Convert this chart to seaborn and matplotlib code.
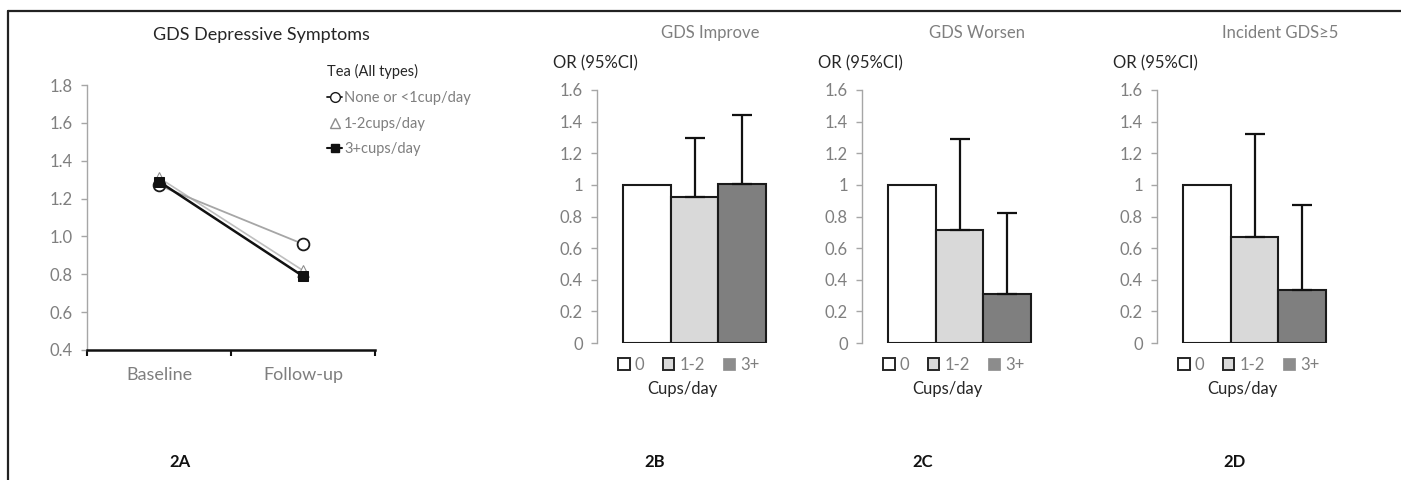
import numpy as np
import pandas as pd
import matplotlib
matplotlib.use("Agg")
import matplotlib.pyplot as plt
from matplotlib.lines import Line2D
from matplotlib.patches import Patch
from matplotlib.ticker import FuncFormatter, FixedLocator
import seaborn as sns

# ---------------- data ----------------
timepoints = ["Baseline", "Follow-up"]
tea_groups = ["None or <1cup/day", "1-2cups/day", "3+cups/day"]
gds_none = [1.27, 0.96]
gds_12 = [1.31, 0.82]
gds_3p = [1.29, 0.79]

cups = ["0", "1-2", "3+"]
improve_or = [1.00, 0.925, 1.007]
improve_upper = [np.nan, 1.294, 1.442]
worsen_or = [1.00, 0.716, 0.312]
worsen_upper = [np.nan, 1.293, 0.823]
incident_or = [1.00, 0.670, 0.338]
incident_upper = [np.nan, 1.321, 0.875]

bar_titles = ["GDS Improve", "GDS Worsen", "Incident GDS\u22655"]
panel_labels = ["2A", "2B", "2C", "2D"]

# ---------------- style ----------------
sns.set_theme(style="white")
plt.rcParams["font.family"] = ["Lato", "DejaVu Sans"]

W, H = 1401, 480
fig = plt.figure(figsize=(W / 100, H / 100), dpi=100)

def fx(px):
    return px / W

def fy(py):
    return 1 - py / H

GRAY_TXT = "#7f7f7f"
AX_GRAY = "#a6a6a6"
DARK = "#262626"
TICK_FS = 12

# frame lines (top and left)
fig.add_artist(Line2D([fx(8), 1.0], [fy(10.5), fy(10.5)], color="#222222", lw=1.6))
fig.add_artist(Line2D([fx(8), fx(8)], [fy(10.5), 0.0], color="#222222", lw=1.6))

# ---------------- panel A ----------------
axA = fig.add_axes([fx(87), fy(350), fx(375) - fx(87), fy(85) - fy(350)])
series = [
    (tea_groups[1], gds_12, dict(color="#bfbfbf", marker="^", markersize=8,
                                 markerfacecolor="white", markeredgecolor="#8c8c8c", lw=1.2)),
    (tea_groups[0], gds_none, dict(color="#a6a6a6", marker="o", markersize=8.5,
                                   markerfacecolor="white", markeredgecolor="#1a1a1a",
                                   markeredgewidth=1.3, lw=1.3)),
    (tea_groups[2], gds_3p, dict(color="#111111", marker="s", markersize=7,
                                 markerfacecolor="#111111", markeredgecolor="#111111", lw=1.8)),
]
for name, vals, kw in series:
    df = pd.DataFrame({"time": timepoints, "gds": vals})
    sns.lineplot(data=df, x="time", y="gds", ax=axA, sort=False, **kw)

axA.set_xlim(-0.5, 1.5)
axA.set_ylim(0.4, 1.8)
axA.set_yticks(np.arange(0.4, 1.81, 0.2))
axA.yaxis.set_major_formatter(FuncFormatter(lambda v, p: f"{v:.1f}"))
axA.set_xticks([0, 1])
axA.set_xticklabels(timepoints)
axA.xaxis.set_minor_locator(FixedLocator([-0.5, 0.5, 1.5]))
axA.tick_params(axis="x", which="major", bottom=True, length=0, pad=12, labelsize=13,
                labelcolor=GRAY_TXT)
axA.tick_params(axis="x", which="minor", bottom=True, direction="out", length=4, width=1.5,
                color="#111111")
axA.tick_params(axis="y", left=True, direction="out", length=4, width=1, color=AX_GRAY,
                labelsize=TICK_FS, labelcolor=GRAY_TXT, pad=6)
axA.set_xlabel("")
axA.set_ylabel("")
for s in ["top", "right"]:
    axA.spines[s].set_visible(False)
axA.spines["left"].set_color(AX_GRAY)
axA.spines["left"].set_linewidth(1.0)
axA.spines["bottom"].set_color("#111111")
axA.spines["bottom"].set_linewidth(1.8)

fig.text(fx(261), fy(35), "GDS Depressive Symptoms", ha="center", va="center",
         fontsize=13, color=DARK)

leg_handles = [
    Line2D([0], [0], color="#1a1a1a", marker="o", markersize=7, markerfacecolor="white",
           markeredgecolor="#1a1a1a", lw=1.3),
    Line2D([0], [0], color="none", marker="^", markersize=7, markerfacecolor="white",
           markeredgecolor="#8c8c8c"),
    Line2D([0], [0], color="#111111", marker="s", markersize=6, markerfacecolor="#111111", lw=1.5),
]
legA = fig.legend(leg_handles, tea_groups, loc="upper left",
                  bbox_to_anchor=(fx(320), fy(57)), frameon=False, fontsize=10.5,
                  title="Tea (All types)", title_fontsize=10.5, handlelength=1.0,
                  handletextpad=0.15, labelspacing=0.8, alignment="left", borderpad=0)
for t in legA.get_texts():
    t.set_color(GRAY_TXT)
legA.get_title().set_color(DARK)

fig.text(fx(180), fy(462), panel_labels[0], ha="center", va="center", fontsize=12,
         color="#111111", fontweight="bold")

# ---------------- panels B-D ----------------
bar_colors = ["#ffffff", "#d9d9d9", "#7f7f7f"]
bar_sets = [(improve_or, improve_upper), (worsen_or, worsen_upper), (incident_or, incident_upper)]
lefts = [597, 862, 1157]
label_x = [655, 923, 1235]
title_x = [710, 977, 1280]
axw = 195
top_px, bot_px = 90, 343
gap_units = 26 / 48.5

for i, ((ors, upp), left) in enumerate(zip(bar_sets, lefts)):
    ax = fig.add_axes([fx(left), fy(bot_px), fx(axw), fy(top_px) - fy(bot_px)])
    df = pd.DataFrame({"cups": cups, "OR": ors})
    sns.barplot(data=df, x="cups", y="OR", hue="cups", palette=bar_colors, width=1.0,
                edgecolor="#1a1a1a", linewidth=1.5, legend=False, ax=ax, errorbar=None)
    up = np.array(upp, dtype=float)
    orv = np.array(ors, dtype=float)
    mask = ~np.isnan(up)
    xs = np.arange(len(cups))[mask]
    ax.errorbar(xs, orv[mask], yerr=[np.zeros(mask.sum()), up[mask] - orv[mask]],
                fmt="none", ecolor="#111111", elinewidth=1.6, capsize=7, capthick=1.6)
    ax.set_xlim(-0.5 - gap_units, 2.5 + gap_units)
    ax.set_ylim(0, 1.6)
    ax.set_yticks(np.arange(0, 1.61, 0.2))
    ax.yaxis.set_major_formatter(FuncFormatter(lambda v, p: f"{round(v, 1):g}"))
    ax.set_xticks([])
    ax.set_ylabel("")
    ax.tick_params(axis="y", left=True, direction="out", length=4, width=1, color=AX_GRAY,
                   labelsize=TICK_FS, labelcolor=GRAY_TXT, pad=6)
    for s in ["top", "right", "bottom"]:
        ax.spines[s].set_visible(False)
    ax.spines["left"].set_color(AX_GRAY)
    ax.spines["left"].set_linewidth(1.0)

    handles = [
        Patch(facecolor="#ffffff", edgecolor="#262626", linewidth=1.4),
        Patch(facecolor="#d9d9d9", edgecolor="#262626", linewidth=1.4),
        Patch(facecolor="#8c8c8c", edgecolor="#8c8c8c", linewidth=0.5),
    ]
    lg = ax.legend(handles, cups, loc="center", bbox_to_anchor=(0.47, -0.085), ncol=3,
                   frameon=False, fontsize=12, handlelength=0.7, handleheight=0.7,
                   handletextpad=0.3, columnspacing=1.1, borderpad=0)
    for t in lg.get_texts():
        t.set_color(GRAY_TXT)
    ax.set_xlabel("Cups/day", fontsize=12, color=DARK)
    ax.xaxis.set_label_coords(0.44, -0.15)

    ax.text(-44 / axw, 1.107, "OR (95%CI)", transform=ax.transAxes, ha="left",
            va="center", fontsize=12, color=DARK)
    fig.text(fx(title_x[i]), fy(33), bar_titles[i], ha="center", va="center",
             fontsize=12, color=GRAY_TXT)
    fig.text(fx(label_x[i]), fy(462), panel_labels[i + 1], ha="center", va="center",
             fontsize=12, color="#111111", fontweight="bold")

fig.savefig("out.png", dpi=100, facecolor="white")
